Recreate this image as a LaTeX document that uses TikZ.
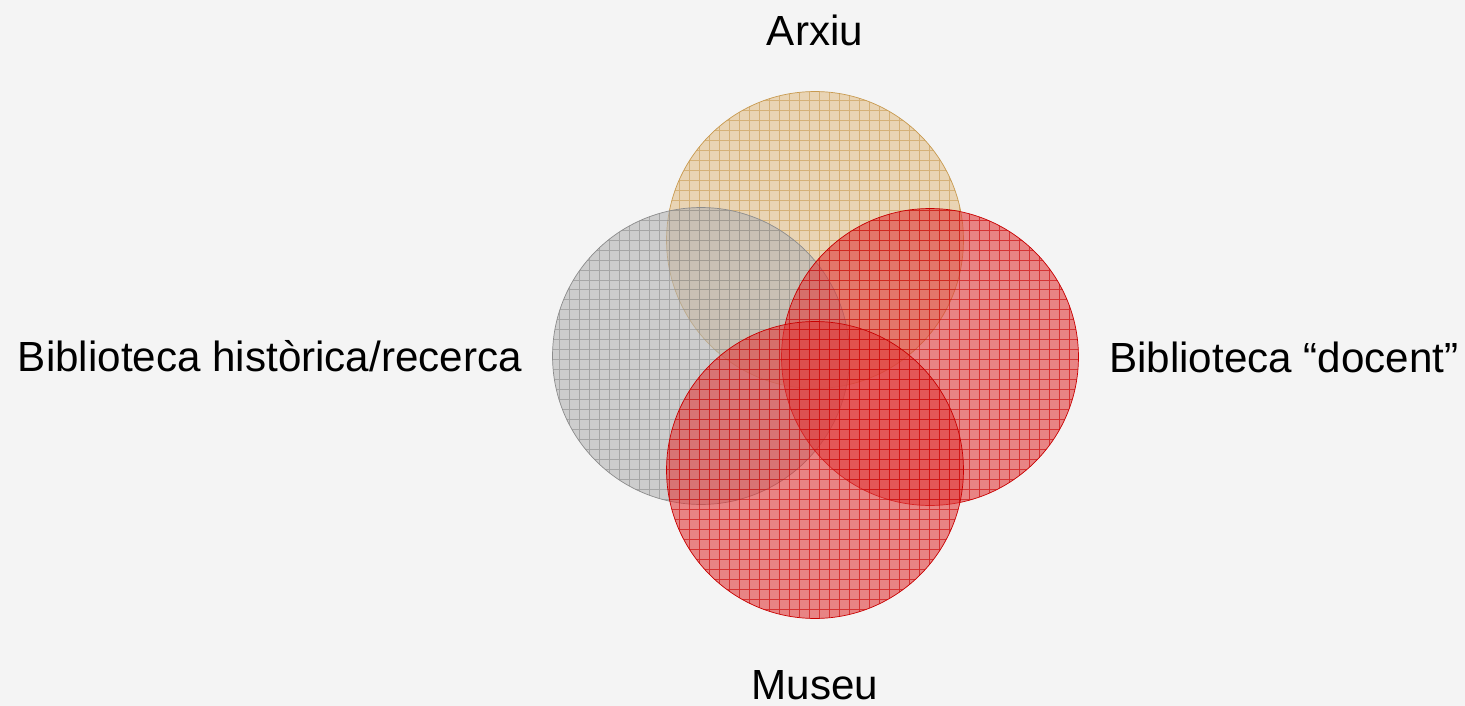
\documentclass[tikz,border=0pt]{standalone}
\usepackage{fontspec}
\setmainfont{Liberation Sans}
\usetikzlibrary{positioning}
\definecolor{bgpaper}{HTML}{F4F4F4}
\definecolor{arxiufill}{HTML}{E2C08A}
\definecolor{arxiuline}{HTML}{C89A50}
\definecolor{histfill}{HTML}{B4B4B4}
\definecolor{histline}{HTML}{8C8C8C}
\definecolor{redfill}{HTML}{E03A3A}
\definecolor{redline}{HTML}{C80000}

\tikzset{
  label/.style={font=\fontsize{24}{28}\selectfont, inner sep=0pt},
  venn/.style={circle, minimum size=5.94cm, inner sep=0pt, fill opacity=0.6},
}
% grid inside one circle
\newcommand{\gridin}[2]{%
  \begin{scope}
    \clip (#1.center) circle (2.97cm);
    \draw[#2, line width=0.5pt, opacity=0.6, step=0.2cm] (0,0) grid (1465,706);
  \end{scope}}

\begin{document}
\begin{tikzpicture}[x=0.02cm, y=-0.02cm]
  \fill[bgpaper] (0,0) rectangle (1465,706);
  \useasboundingbox (0,0) rectangle (1465,706);

  \node[venn, fill=arxiufill, draw=arxiuline] (arxiu) at (815,240) {};
  \gridin{arxiu}{arxiuline}
  \node[venn, fill=histfill, draw=histline] (hist) at (701,356) {};
  \gridin{hist}{histline}
  \node[venn, fill=redfill, draw=redline] (docent) at (930,357) {};
  \gridin{docent}{redline}
  \node[venn, fill=redfill, draw=redline] (museu) at (815,470) {};
  \gridin{museu}{redline}

  \node[label] (larxiu) at (815,30) {Arxiu};
  \node[label, left=30 of hist.west] (lhist) {Biblioteca històrica/recerca};
  \node[label, right=30 of docent.east] (ldocent) {Biblioteca “docent”};
  \node[label] (lmuseu) at (815,685) {Museu};
\end{tikzpicture}
\end{document}
